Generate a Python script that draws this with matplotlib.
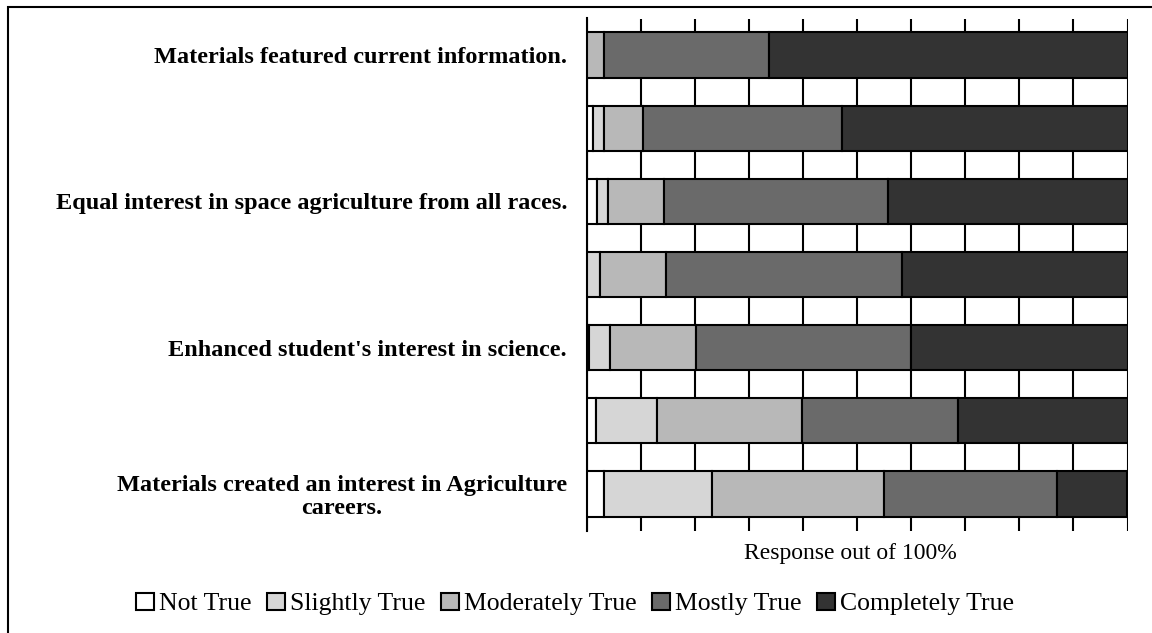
import numpy as np
import matplotlib
matplotlib.use("Agg")
import matplotlib.pyplot as plt
from matplotlib.patches import Rectangle

# --- data (top bar first), values read as % of responses ---
labels = [
    "Materials featured current information.",
    "",
    "Equal interest in space agriculture from all races.",
    "",
    "Enhanced student's interest in science.",
    "",
    "Materials created an interest in Agriculture\ncareers.",
]
series_names = ["Not True", "Slightly True", "Moderately True", "Mostly True", "Completely True"]
not_true = [0.0, 1.2, 2.0, 0.0, 0.5, 1.7, 3.2]
slightly_true = [0.0, 2.0, 2.0, 2.5, 3.8, 11.4, 20.0]
moderately_true = [3.2, 7.3, 10.3, 12.2, 15.9, 26.7, 31.8]
mostly_true = [30.6, 36.7, 41.4, 43.6, 39.8, 28.8, 31.9]
completely_true = [66.2, 52.8, 44.3, 41.7, 40.0, 31.4, 13.1]

colors = ["#ffffff", "#d6d6d6", "#b8b8b8", "#6a6a6a", "#333333"]

plt.rcParams["font.family"] = ["Liberation Serif", "DejaVu Serif"]

fig = plt.figure(figsize=(11.52, 6.33), dpi=100)
ax = fig.add_axes([586.5 / 1152, 1 - 530.5 / 633, 541 / 1152, 512 / 633])

y = np.arange(len(labels))
left = np.zeros(len(labels))
for name, vals, col in zip(series_names,
                           [not_true, slightly_true, moderately_true, mostly_true, completely_true],
                           colors):
    ax.barh(y, vals, left=left, height=0.62, color=col, edgecolor="black",
            linewidth=1.5, label=name, zorder=3)
    left += np.array(vals)

ax.set_xlim(0, 100)
ax.set_ylim(6.5, -0.5)
ax.set_xticks(np.arange(0, 101, 10))
ax.set_xticklabels([])
ax.grid(axis="x", color="black", linewidth=1.5)
ax.set_axisbelow(True)
ax.tick_params(axis="both", length=0)
ax.tick_params(axis="y", pad=14)
ax.set_yticks(y)
ax.set_yticklabels(labels, fontsize=17.5, fontweight="bold",
                   multialignment="center", linespacing=1.1)
for s in ["top", "right", "bottom"]:
    ax.spines[s].set_visible(False)
ax.spines["left"].set_color("black")
ax.spines["left"].set_linewidth(1.5)

ax.set_xlabel("Response out of 100%", fontsize=17, labelpad=6)
ax.xaxis.set_label_coords(0.487, -0.025, transform=ax.transAxes)
ax.xaxis.label.set_va("top")

fig.legend(loc="center", bbox_to_anchor=(575 / 1152, 1 - 604 / 633), ncol=5,
           frameon=False, fontsize=18.5, handlelength=0.7, handleheight=0.7,
           handletextpad=0.2, columnspacing=0.6, borderaxespad=0)

# outer border (right and bottom edges fall outside the picture)
fig.add_artist(Rectangle((8 / 1152, -0.1), 1.2, (1 - 7 / 633) + 0.1,
                         transform=fig.transFigure, fill=False,
                         edgecolor="black", linewidth=1.5))

fig.savefig("out.png", dpi=100)
